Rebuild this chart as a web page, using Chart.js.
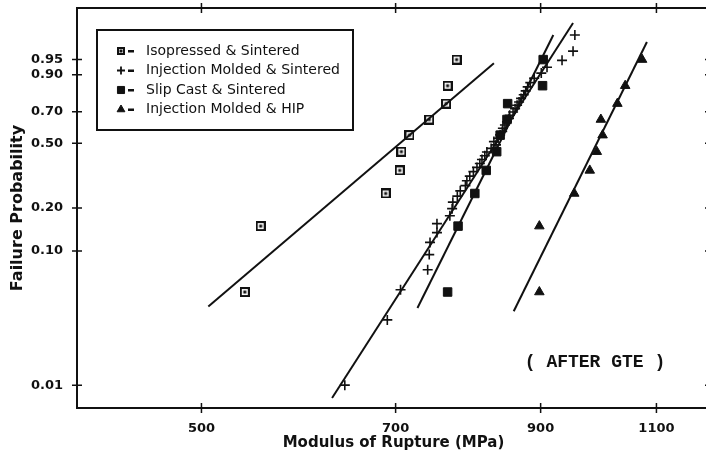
<!DOCTYPE html>
<html>
<head>
<meta charset="utf-8">
<script src="https://cdn.jsdelivr.net/npm/chart.js@4.4.1/dist/chart.umd.min.js"></script>
<style>
  html, body { margin: 0; padding: 0; background: #fff; overflow: hidden; }
  #wrap { width: 720px; height: 463px; }
</style>
</head>
<body>
<div id="wrap"><canvas id="weibullChart" width="720" height="463"></canvas></div>
<script>
// Weibull plot: failure probability vs modulus of rupture (MPa)
const probTickValues = [0.01, 0.10, 0.20, 0.50, 0.70, 0.90, 0.95];
const probTickLabels = ['0.01', '0.10', '0.20', '0.50', '0.70', '0.90', '0.95'];
const strengthTicks = [500, 700, 900, 1100];

const legendLabels = [
  'Isopressed & Sintered',
  'Injection Molded & Sintered',
  'Slip Cast & Sintered',
  'Injection Molded & HIP'
];

// Isopressed & Sintered
const isoStrength = [539, 554, 688, 705, 707, 717, 742, 764, 766, 778];
const isoProb = [0.05, 0.15, 0.25, 0.35, 0.45, 0.55, 0.65, 0.75, 0.85, 0.95];
const isoFit = [[506, 0.039], [830, 0.94]];

// Injection Molded & Sintered
const injStrength = [641, 690, 706, 740, 742, 743, 752, 752, 769, 772, 773, 779, 783, 790, 792, 796,
  801, 806, 810, 813, 817, 820, 826, 833, 830, 836, 839, 842, 843, 846, 849, 852,
  853, 858, 861, 864, 867, 870, 874, 877, 880, 884, 890, 901, 910, 934, 952, 955];
const injProb = [0.010, 0.031, 0.052, 0.073, 0.094, 0.115, 0.135, 0.156, 0.177, 0.198, 0.219, 0.240,
  0.260, 0.281, 0.302, 0.323, 0.344, 0.365, 0.385, 0.406, 0.427, 0.448, 0.469, 0.490,
  0.510, 0.531, 0.552, 0.573, 0.594, 0.615, 0.635, 0.656, 0.677, 0.698, 0.719, 0.740,
  0.760, 0.781, 0.802, 0.823, 0.844, 0.865, 0.885, 0.906, 0.927, 0.948, 0.969, 0.990];
const injFit = [[627, 0.008], [952, 0.9966]];

// Slip Cast & Sintered
const slipStrength = [766, 780, 803, 819, 834, 839, 849, 850, 903, 904];
const slipProb = [0.05, 0.15, 0.25, 0.35, 0.45, 0.55, 0.65, 0.75, 0.85, 0.95];
const slipFit = [[727, 0.038], [920, 0.990]];

// Injection Molded & HIP
const hipStrength = [898, 898, 954, 980, 992, 1002, 999, 1028, 1042, 1073];
const hipProb = [0.05, 0.15, 0.25, 0.35, 0.45, 0.55, 0.65, 0.75, 0.85, 0.95];
const hipFit = [[859, 0.036], [1082, 0.983]];

const ink = '#111';
const weib = p => Math.log(-Math.log(1 - p));
const pts = (xs, ps) => xs.map((x, i) => ({ x: x, y: weib(ps[i]) }));
const fitPts = f => f.map(d => ({ x: d[0], y: weib(d[1]) }));

// open square with a dot, as in the original symbol
function openSquare(size) {
  const c = document.createElement('canvas');
  c.width = size; c.height = size;
  const g = c.getContext('2d');
  g.fillStyle = '#fff';
  g.fillRect(0, 0, size, size);
  g.strokeStyle = ink;
  g.lineWidth = 2;
  g.strokeRect(1, 1, size - 2, size - 2);
  g.fillStyle = ink;
  g.fillRect(size / 2 - 1.5, size / 2 - 1.5, 3, 3);
  return c;
}
const isoMark = openSquare(10);
const isoMarkSmall = openSquare(8);

function fitLine(f) {
  return {
    data: fitPts(f),
    showLine: true,
    borderColor: ink,
    borderWidth: 2,
    pointRadius: 0
  };
}

// legend box, frame ticks and note
const frameAndNotes = {
  id: 'frameAndNotes',
  afterDraw(chart) {
    const { ctx, chartArea: a, scales } = chart;
    ctx.save();
    ctx.strokeStyle = ink;
    ctx.lineWidth = 2;
    ctx.strokeRect(a.left, a.top, a.right - a.left, a.bottom - a.top);

    ctx.lineWidth = 1.5;
    ctx.beginPath();
    strengthTicks.forEach(v => {
      const x = scales.x.getPixelForValue(v);
      ctx.moveTo(x, a.bottom - 5); ctx.lineTo(x, a.bottom + 5);
      ctx.moveTo(x, a.top - 5); ctx.lineTo(x, a.top + 5);
    });
    probTickValues.forEach(p => {
      const y = scales.y.getPixelForValue(weib(p));
      ctx.moveTo(a.left - 5, y); ctx.lineTo(a.left + 5, y);
      ctx.moveTo(a.right - 5, y); ctx.lineTo(a.right + 5, y);
    });
    ctx.stroke();

    // legend
    ctx.lineWidth = 2;
    ctx.fillStyle = '#fff';
    ctx.fillRect(97, 30, 256, 100);
    ctx.strokeRect(97, 30, 256, 100);
    const styles = [
      { pointStyle: isoMarkSmall, radius: 4, fill: '#fff', bw: 2 },
      { pointStyle: 'cross', radius: 4, fill: ink, bw: 1.8 },
      { pointStyle: 'rect', radius: 5, fill: ink, bw: 1 },
      { pointStyle: 'triangle', radius: 4.5, fill: ink, bw: 1 }
    ];
    ctx.font = '14px "DejaVu Sans"';
    ctx.textBaseline = 'middle';
    legendLabels.forEach((lab, i) => {
      const y = 51 + i * 19.5;
      const s = styles[i];
      ctx.fillStyle = s.fill;
      ctx.strokeStyle = ink;
      ctx.lineWidth = s.bw;
      Chart.helpers.drawPoint(ctx, { pointStyle: s.pointStyle, radius: s.radius, rotation: 0, borderWidth: s.bw }, 121, y);
      ctx.fillStyle = ink;
      ctx.fillRect(128, y - 1, 6, 2.5);
      ctx.fillText(lab, 146, y);
    });

    ctx.font = 'bold 18px "Liberation Mono"';
    ctx.textAlign = 'center';
    ctx.fillText('( AFTER GTE )', 595, 362);
    ctx.restore();
  }
};

const ctx = document.getElementById('weibullChart').getContext('2d');
new Chart(ctx, {
  type: 'scatter',
  data: {
    datasets: [
      fitLine(isoFit),
      fitLine(injFit),
      fitLine(slipFit),
      fitLine(hipFit),
      {
        label: legendLabels[0],
        data: pts(isoStrength, isoProb),
        pointStyle: isoMark,
        pointRadius: 5
      },
      {
        label: legendLabels[1],
        data: pts(injStrength, injProb),
        pointStyle: 'cross',
        pointRadius: 5,
        borderColor: ink,
        borderWidth: 1.6
      },
      {
        label: legendLabels[2],
        data: pts(slipStrength, slipProb),
        pointStyle: 'rect',
        pointRadius: 6,
        backgroundColor: ink,
        borderColor: ink,
        borderWidth: 1
      },
      {
        label: legendLabels[3],
        data: pts(hipStrength, hipProb),
        pointStyle: 'triangle',
        pointRadius: 5.5,
        backgroundColor: ink,
        borderColor: ink,
        borderWidth: 1
      }
    ]
  },
  options: {
    responsive: false,
    animation: false,
    events: [],
    layout: { padding: { top: 8, right: 10, left: 0, bottom: 0 } },
    plugins: {
      legend: { display: false },
      tooltip: { enabled: false }
    },
    scales: {
      x: {
        type: 'logarithmic',
        min: 403,
        max: 1207,
        grid: { display: false, drawTicks: false },
        border: { display: false },
        afterBuildTicks: scale => { scale.ticks = strengthTicks.map(v => ({ value: v })); },
        afterFit: scale => {
          scale.height = 55;
          scale.paddingLeft = 0;
          scale.paddingRight = 0;
        },
        ticks: {
          autoSkip: false,
          maxRotation: 0,
          padding: 13,
          color: ink,
          font: { family: 'DejaVu Sans', size: 13, weight: 'bold' },
          callback: v => String(v)
        },
        title: {
          display: true,
          text: 'Modulus of Rupture (MPa)',
          color: ink,
          font: { family: 'DejaVu Sans', size: 15, weight: 'bold' },
          padding: { top: 0, bottom: 11 }
        }
      },
      y: {
        type: 'linear',
        min: -5,
        max: 2,
        grid: { display: false, drawTicks: false },
        border: { display: false },
        afterBuildTicks: scale => { scale.ticks = probTickValues.map(p => ({ value: weib(p) })); },
        afterFit: scale => {
          scale.width = 77;
          scale.paddingTop = 0;
          scale.paddingBottom = 0;
        },
        ticks: {
          autoSkip: false,
          padding: 14,
          color: ink,
          font: { family: 'DejaVu Sans', size: 13, weight: 'bold' },
          callback: (v, i) => probTickLabels[i]
        },
        title: {
          display: true,
          text: 'Failure Probability',
          color: ink,
          font: { family: 'DejaVu Sans', size: 16, weight: 'bold' },
          padding: { top: 8, bottom: 0 }
        }
      }
    }
  },
  plugins: [frameAndNotes]
});
</script>
</body>
</html>
